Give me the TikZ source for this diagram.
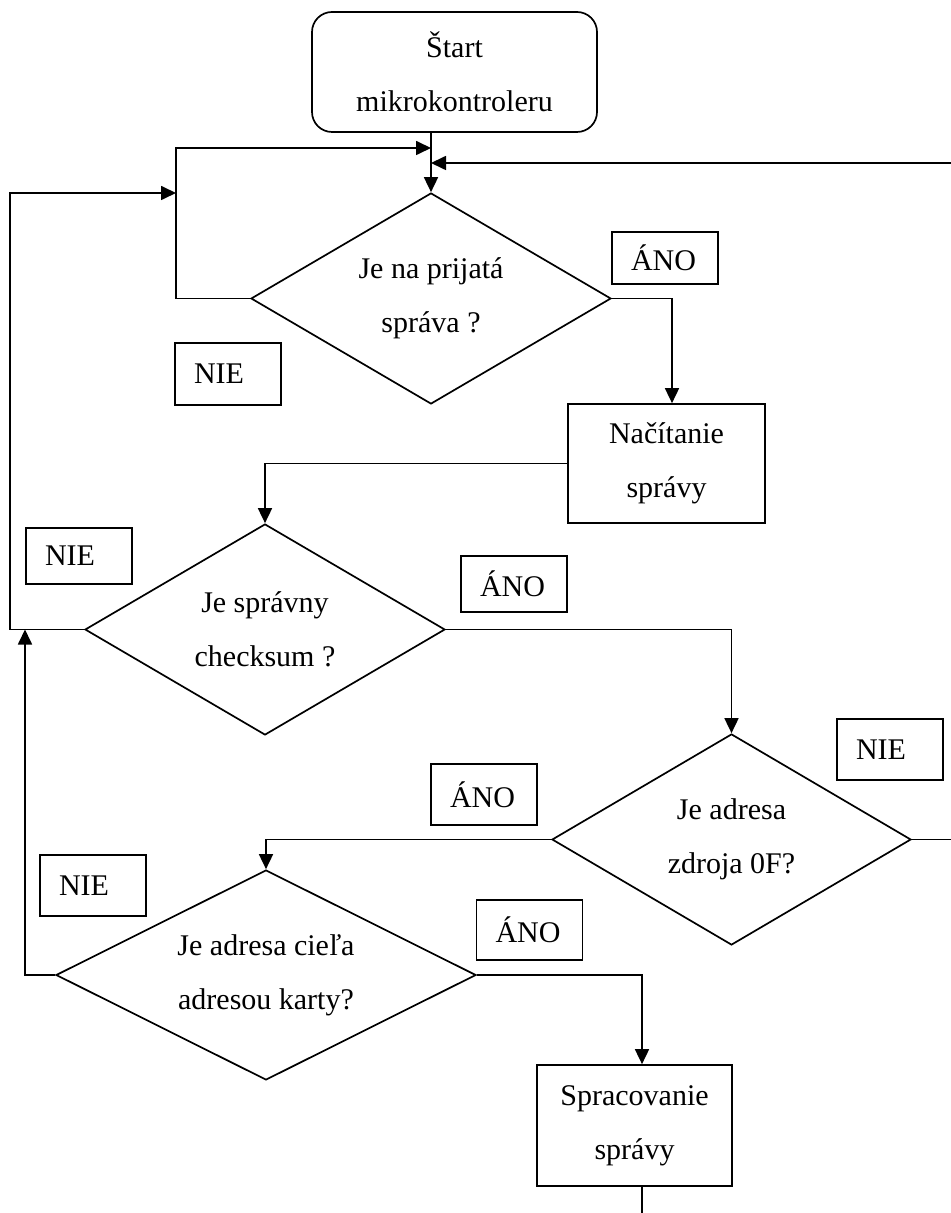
\documentclass[tikz,border=0pt]{standalone}
\usepackage{fontspec}
\setmainfont{Liberation Serif}
\usetikzlibrary{shapes.geometric,arrows.meta}

\begin{document}
\begin{tikzpicture}[x=0.5pt,y=-0.5pt,
  line width=0.85pt,
  every node/.style={font=\fontsize{15}{27}\selectfont},
  txt/.style={align=center, inner sep=0pt},
  startbox/.style={draw, rounded corners=10pt, align=center, inner sep=0pt},
  procbox/.style={draw, align=center, inner sep=0pt},
  decision/.style={draw, diamond, inner sep=0pt},
  tagbox/.style={draw, inner xsep=9.5pt, inner ysep=0pt, text width=34pt, align=left},
  arr/.style={-{Triangle[length=7.5pt,width=7pt]}}
]
% canvas
\fill[white] (0,0) rectangle (951,1213);
\useasboundingbox (0,0) rectangle (951,1213);

% blocks
\node[startbox, minimum width=142.5pt, minimum height=60pt] (start) at (454.5,72) {Štart\\mikrokontroleru};

\node[decision, minimum width=180pt, minimum height=105.5pt] (d1) at (431,298.5) {};
\node[txt] (t1) at (d1.center) {Je na prijatá\\správa ?};

\node[procbox, minimum width=98.5pt, minimum height=59.5pt] (read) at (666.5,463.5) {Načítanie\\správy};

\node[decision, minimum width=180pt, minimum height=105.5pt] (d2) at (265,629.5) {};
\node[txt] (t2) at (d2.center) {Je správny\\checksum ?};

\node[decision, minimum width=179.5pt, minimum height=105.5pt] (d3) at (731.5,839.5) {};
\node[txt] (t3) at (d3.center) {Je adresa\\zdroja 0F?};

\node[decision, minimum width=210pt, minimum height=105pt] (d4) at (266,975) {};
\node[txt] (t4) at (d4.center) {Je adresa cieľa\\adresou karty?};

\node[procbox, minimum width=97.5pt, minimum height=60.5pt] (proc) at (634.5,1125.5) {Spracovanie\\správy};

% answer tags
\node[tagbox, minimum height=31pt]   (n1) at (228,374)     {NIE};
\node[tagbox, minimum height=26pt]   (a1) at (665,258)     {ÁNO};
\node[tagbox, minimum height=28pt]   (n2) at (79,556)      {NIE};
\node[tagbox, minimum height=28pt]   (a2) at (514,584)     {ÁNO};
\node[tagbox, minimum height=30.5pt] (n3) at (890,749.5)   {NIE};
\node[tagbox, minimum height=30.5pt] (a3) at (484,794.5)   {ÁNO};
\node[tagbox, minimum height=30.5pt] (n4) at (93,885.5)    {NIE};
\node[tagbox, minimum height=30pt]   (a4) at (529.5,930)   {ÁNO};

% junction points of the return lines
\coordinate (lpA) at (176,148);
\coordinate (j1)  at (431,148);
\coordinate (lpB) at (10,193);
\coordinate (j2)  at (176,193);
\coordinate (j3)  at (25,629.5);
\coordinate (lpC) at (985,163);
\coordinate (j4)  at (431,163);
\coordinate (out) at (642,1230);

% connectors
\draw[arr] (d1.north |- start.south) -- (d1.north);
\draw[arr] (d1.west) -| (lpA) -- (j1);
\draw[arr] (d1.east) -| ([xshift=2.75pt]read.north);
\draw[arr] (read.west) -| (d2.north);
\draw[arr] (d2.west) -| (lpB) -- (j2);
\draw[arr] (d2.east) -| (d3.north);
\draw[arr] (d3.west) -| (d4.north);
\draw[arr] (d4.west) -| (j3);
\draw[arr] (d4.east) -| ([xshift=3.75pt]proc.north);
\begin{scope}
  \clip (0,0) rectangle (951,1213);
  \draw[arr] (d3.east) -| (lpC) -- (j4);
  \draw ([xshift=3.75pt]proc.south) -- (out);
\end{scope}
\end{tikzpicture}
\end{document}
